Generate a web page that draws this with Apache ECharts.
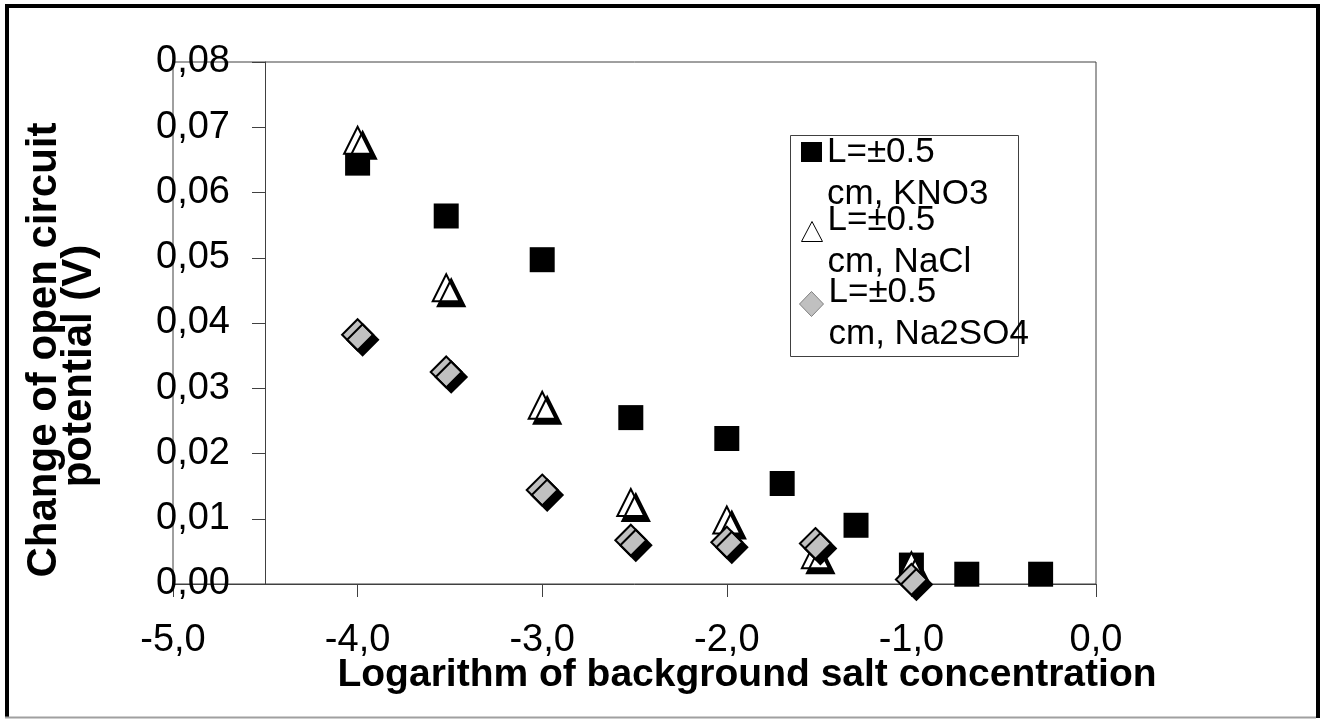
<!DOCTYPE html>
<html>
<head>
<meta charset="utf-8">
<title>Open circuit potential vs background salt concentration</title>
<script src="https://cdn.jsdelivr.net/npm/echarts@6/dist/echarts.min.js"></script>
<style>
  html, body { margin: 0; padding: 0; background: #fff; }
  #chart { width: 1323px; height: 719px; }
</style>
</head>
<body>
<div id="chart"></div>
<script>
// log10 of background salt concentration (x) and change of open circuit potential in V (y)
const seriesNames = ['L=±0.5 cm, KNO3', 'L=±0.5 cm, NaCl', 'L=±0.5 cm, Na2SO4'];

const xKNO3 = [-4.00, -3.52, -3.00, -2.52, -2.00, -1.70, -1.30, -1.00, -0.70, -0.30];
const yKNO3 = [0.0645, 0.0564, 0.0497, 0.0255, 0.0223, 0.0154, 0.0090, 0.0029, 0.0015, 0.0015];

const xNaCl = [-4.00, -3.52, -3.00, -2.52, -2.00, -1.52, -1.00];
const yNaCl = [0.0680, 0.0454, 0.0274, 0.0125, 0.0098, 0.0045, 0.0028];

const xNa2SO4 = [-4.00, -3.52, -3.00, -2.52, -2.00, -1.52, -1.00];
const yNa2SO4 = [0.0382, 0.0325, 0.0144, 0.0067, 0.0064, 0.0062, 0.0007];

const xTitle = 'Logarithm of background salt concentration';
const yTitleLines = ['Change of open circuit', 'potential (V)'];

const FONT = '"Liberation Sans", Arial, Helvetica, sans-serif';
const AXIS_GRAY = '#404040';

const pairs = (xs, ys) => xs.map((x, i) => [x, ys[i]]);
const comma = (v, d) => v.toFixed(d).replace('.', ',');
// two-line legend label; the leading blank line keeps the icon level with the first line
const legendText = name => '\u00a0\n' + name.replace(' cm', '\ncm');

const noShadow = { shadowColor: 'rgba(0,0,0,0)', shadowBlur: 0, shadowOffsetX: 0, shadowOffsetY: 0 };
const legendBase = {
  orient: 'vertical',
  padding: 0,
  itemGap: 0,
  selectedMode: false,
  formatter: legendText,
  textStyle: { fontSize: 35, fontFamily: FONT, color: '#000', lineHeight: 42 }
};

// legend icons; the leading move-to pushes the shape a little below the label's first line
const ICON_TRIANGLE = 'path://M0,0M10.5,23L21,43L0,43Z';
const ICON_DIAMOND = 'path://M0,0M12,24L24,36.5L12,49L0,36.5Z';

const yTitleStyle = text => ({
  text: text, font: 'bold 42px ' + FONT, fill: '#000', align: 'center', verticalAlign: 'middle'
});

const chart = echarts.init(document.getElementById('chart'), null, { renderer: 'canvas' });

chart.setOption({
  animation: false,
  backgroundColor: '#fff',
  grid: {
    left: 173, top: 62, right: 227, bottom: 135,
    show: true, borderColor: AXIS_GRAY, borderWidth: 1, backgroundColor: 'transparent',
    containLabel: false, outerBoundsMode: 'none'
  },
  xAxis: {
    type: 'value', min: -5, max: 0, interval: 1,
    axisLine: { show: true, onZero: false, lineStyle: { color: AXIS_GRAY, width: 1 } },
    axisTick: { show: true, inside: false, length: 13, lineStyle: { color: AXIS_GRAY, width: 1 } },
    axisLabel: { margin: 38, fontSize: 38, fontFamily: FONT, color: '#000', formatter: v => comma(v, 1) },
    splitLine: { show: false }
  },
  yAxis: {
    type: 'value', min: 0, max: 0.08, interval: 0.01,
    // the vertical axis crosses the horizontal one at x = -4.5
    offset: -92,
    axisLine: { show: true, onZero: false, lineStyle: { color: AXIS_GRAY, width: 1 } },
    axisTick: { show: true, inside: false, length: 13, lineStyle: { color: AXIS_GRAY, width: 1 } },
    axisLabel: { margin: 35, fontSize: 38, fontFamily: FONT, color: '#000', formatter: v => comma(v, 2) },
    splitLine: { show: false }
  },
  legend: [
    Object.assign({}, legendBase, {
      data: [seriesNames[0]], left: 801, top: 89, itemWidth: 21, itemHeight: 20,
      itemStyle: Object.assign({ borderWidth: 0 }, noShadow)
    }),
    Object.assign({}, legendBase, {
      data: [seriesNames[1]], left: 801, top: 157, itemWidth: 21, itemHeight: 43, icon: ICON_TRIANGLE,
      itemStyle: Object.assign({ borderWidth: 1, borderColor: '#000' }, noShadow)
    }),
    Object.assign({}, legendBase, {
      data: [seriesNames[2]], left: 799, top: 229, itemWidth: 24, itemHeight: 49, icon: ICON_DIAMOND,
      itemStyle: Object.assign({ borderWidth: 1, borderColor: '#808080' }, noShadow)
    })
  ],
  series: [
    {
      type: 'scatter', name: seriesNames[0], data: pairs(xKNO3, yKNO3),
      symbol: 'rect', symbolSize: 25, silent: true,
      itemStyle: { color: '#000', opacity: 1 },
      emphasis: { disabled: true }
    },
    {
      type: 'scatter', name: seriesNames[1], data: pairs(xNaCl, yNaCl),
      symbol: 'triangle', symbolSize: 27, silent: true,
      itemStyle: { color: '#fff', opacity: 1, borderColor: '#000', borderWidth: 2,
        shadowColor: '#000', shadowBlur: 0, shadowOffsetX: 5, shadowOffsetY: 5 },
      emphasis: { disabled: true }
    },
    {
      type: 'scatter', name: seriesNames[2], data: pairs(xNa2SO4, yNa2SO4),
      symbol: 'diamond', symbolSize: 31, silent: true,
      itemStyle: { color: '#c0c0c0', opacity: 1, borderColor: '#000', borderWidth: 2,
        shadowColor: '#000', shadowBlur: 0, shadowOffsetX: 5, shadowOffsetY: 5 },
      emphasis: { disabled: true }
    }
  ],
  graphic: [
    // legend frame
    { type: 'rect', silent: true, z: 1,
      shape: { x: 790.5, y: 135.5, width: 228, height: 221 },
      style: { fill: 'rgba(0,0,0,0)', stroke: AXIS_GRAY, lineWidth: 1 } },
    // axis titles
    { type: 'text', silent: true, x: 747, y: 675,
      style: { text: xTitle, font: 'bold 39px ' + FONT, fill: '#000', align: 'center', verticalAlign: 'middle' } },
    { type: 'text', silent: true, x: 44, y: 350, rotation: Math.PI / 2, style: yTitleStyle(yTitleLines[0]) },
    { type: 'text', silent: true, x: 79, y: 366, rotation: Math.PI / 2, style: yTitleStyle(yTitleLines[1]) },
    // outer frame
    { type: 'line', silent: true, shape: { x1: 5, y1: 6, x2: 1320, y2: 6 }, style: { stroke: '#000', lineWidth: 4 } },
    { type: 'line', silent: true, shape: { x1: 7, y1: 4, x2: 7, y2: 718 }, style: { stroke: '#000', lineWidth: 4 } },
    { type: 'line', silent: true, shape: { x1: 1318, y1: 4, x2: 1318, y2: 718 }, style: { stroke: '#000', lineWidth: 4 } },
    { type: 'line', silent: true, shape: { x1: 5, y1: 717.5, x2: 1316, y2: 717.5 }, style: { stroke: '#a0a0a0', lineWidth: 2 } }
  ]
});
</script>
</body>
</html>
